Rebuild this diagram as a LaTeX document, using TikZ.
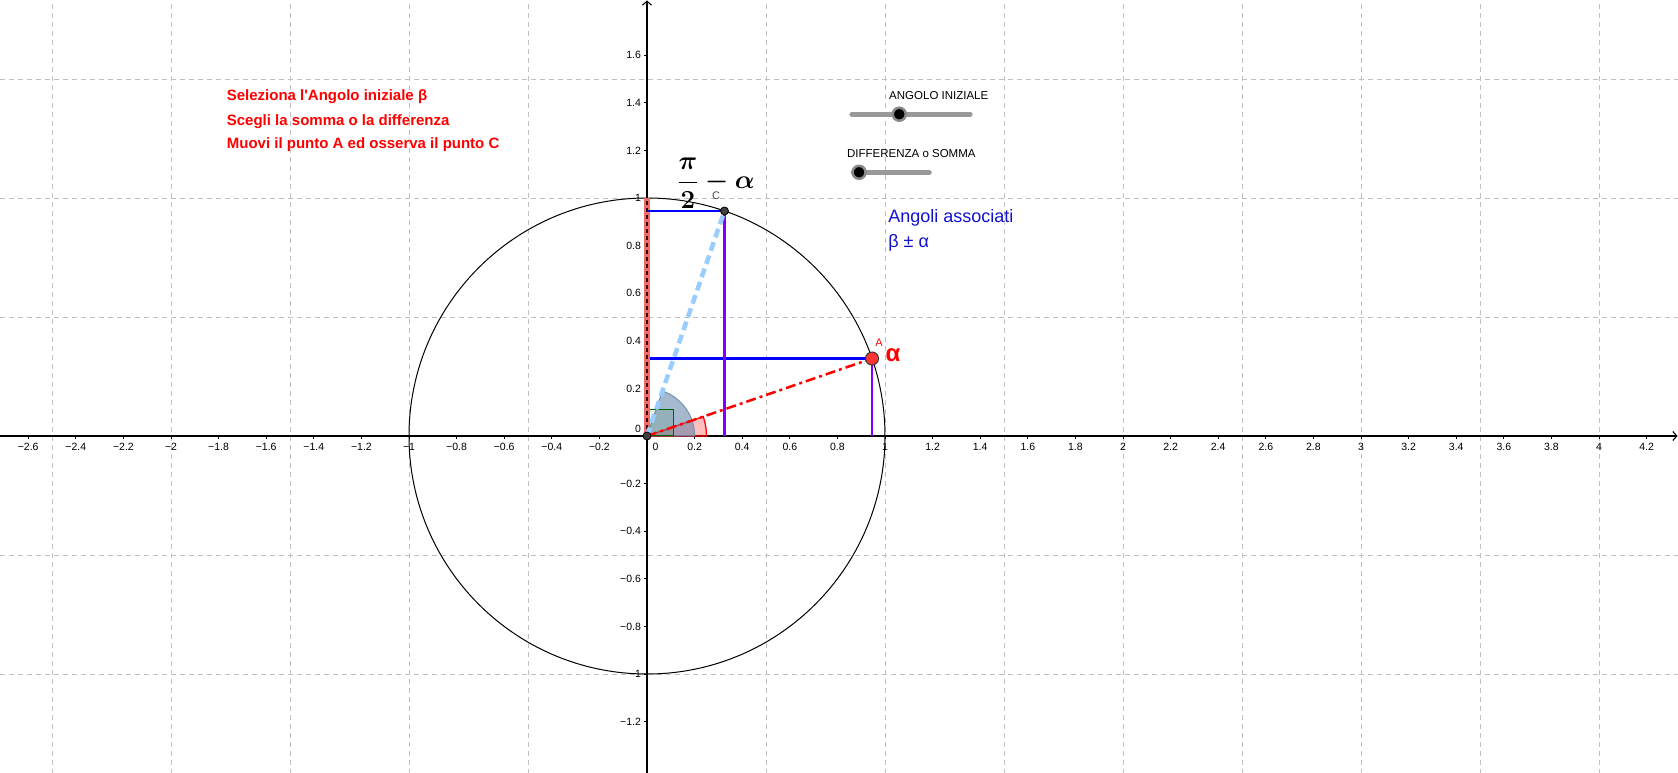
\RequirePackage{fix-cm}
\documentclass[tikz,border=0pt]{standalone}
\usepackage{amsmath}
\usepackage{fontspec}
\setmainfont{Liberation Sans}
\usetikzlibrary{arrows.meta,calc,positioning}

\definecolor{geored}{HTML}{FF0000}
\definecolor{geoblue}{HTML}{0000FF}
\definecolor{textblue}{HTML}{1010D0}
\definecolor{geoviolet}{HTML}{7F00FF}
\definecolor{skyblue}{HTML}{99CCFF}
\definecolor{slate}{HTML}{5B7FA5}
\definecolor{gridgray}{HTML}{C0C0C0}
\definecolor{salmon}{HTML}{F26B6B}
\definecolor{darkgreen}{HTML}{006400}
\definecolor{pointred}{HTML}{FF3333}
\definecolor{slidergray}{HTML}{999999}
\definecolor{knobgray}{HTML}{888888}

\newcommand{\angA}{19}  % angle alpha of A
\newcommand{\angC}{71}  % pi/2 - alpha

\tikzset{%
	gridline/.style = {draw=gridgray, line width=0.8pt, dash pattern=on 5pt off 4pt},
	axisline/.style = {line width=1.1pt, -{Straight Barb[length=4pt,width=9pt]}},
	xlab/.style     = {anchor=base, inner sep=0pt, font=\fontsize{10.5}{12}\selectfont},
	ylab/.style     = {anchor=east, inner sep=0pt, font=\fontsize{10.5}{12}\selectfont},
	projh/.style    = {draw=geoblue, line width=2.8pt},
	projv/.style    = {draw=geoviolet, line width=2.8pt},
	geopoint/.style = {circle, draw=black, fill=black!75, line width=0.8pt, inner sep=0pt, minimum size=8pt},
	slider/.style   = {draw=slidergray, line width=5pt, line cap=round},
	knob/.style     = {circle, fill=black, draw=knobgray, line width=2.5pt, inner sep=0pt, minimum size=13pt},
	redtext/.style  = {anchor=base west, inner sep=0pt, text=geored, font=\fontsize{15}{18}\selectfont\bfseries},
	bluetext/.style = {anchor=base west, inner sep=0pt, text=textblue, font=\fontsize{18}{21}\selectfont},
	slidertext/.style = {anchor=base west, inner sep=0pt, font=\fontsize{11.5}{13}\selectfont},
}

\begin{document}
\begin{tikzpicture}[x=238pt, y=238pt]
	\useasboundingbox (-647pt,-337pt) rectangle (1031pt,436pt);

	% grid
	\foreach \g in {-2.5,-2,-1.5,-1,-0.5,0.5,1,1.5,2,2.5,3,3.5,4}
		\draw[gridline] (\g,-1.42) -- (\g,1.84);
	\foreach \g in {-1,-0.5,0.5,1,1.5}
		\draw[gridline] (-2.72,\g) -- (4.34,\g);

	% axes
	\draw[axisline] (-2.72,0) -- (4.33,0);
	\draw[axisline] (0,-1.42) -- (0,1.83);
	\foreach \t in {0.2,0.4,0.6,0.8,1,1.2,1.4,1.6,1.8,2,2.2,2.4,2.6,2.8,3,3.2,3.4,3.6,3.8,4,4.2} {
		\draw[line width=0.8pt] (\t,0) -- ++(0,-3.5pt);
		\node[xlab] at (\t,-0.062) {\t};
	}
	\foreach \t in {0.2,0.4,0.6,0.8,1,1.2,1.4,1.6,1.8,2,2.2,2.4,2.6} {
		\draw[line width=0.8pt] (-\t,0) -- ++(0,-3.5pt);
		\node[xlab] at (-\t,-0.062) {−\t};
	}
	\foreach \t in {0.2,0.4,0.6,0.8,1,1.2,1.4,1.6} {
		\draw[line width=0.8pt] (0,\t) -- ++(-3.5pt,0);
		\node[ylab] at (-0.025,\t) {\t};
	}
	\foreach \t in {0.2,0.4,0.6,0.8,1,1.2} {
		\draw[line width=0.8pt] (0,-\t) -- ++(-3.5pt,0);
		\node[ylab] at (-0.025,-\t) {−\t};
	}
	\node[ylab] (zeroy) at (-0.025,0.03) {0};
	\node[xlab] (zerox) at (0.036,-0.062) {0};

	% unit circle and points
	\coordinate (O) at (0,0);
	\coordinate (A) at (\angA:1);
	\coordinate (C) at (\angC:1);
	\coordinate (T) at (0,1);
	\draw[line width=1pt] (O) circle[radius=1];

	% angles
	\filldraw[draw=geored, line width=1.3pt, fill=geored, fill opacity=0.25]
		(O) -- (0:0.25) arc[start angle=0, end angle=\angA, radius=0.25] -- cycle;
	\filldraw[draw=slate!85, line width=1pt, fill=slate, fill opacity=0.55]
		(O) -- (0:0.2) arc[start angle=0, end angle=\angC, radius=0.2] -- cycle;
	\filldraw[draw=darkgreen, line width=1pt, fill=darkgreen, fill opacity=0.1]
		(O) rectangle (0.113,0.113);

	% projections
	\draw[projh] (O |- A) -- (A);
	\draw[salmon, line width=6pt] (O) -- (T);
	\draw[black!80!red, line width=2pt, dash pattern=on 4pt off 3pt] (O) -- (T);
	\draw[projh] (O |- C) -- (C);
	\draw[projv] (A) -- (A |- O);
	\draw[projv] (C) -- (C |- O);

	% radii
	\draw[skyblue, line width=4.5pt, dash pattern=on 9pt off 5pt] (O) -- (C);
	\draw[geored, line width=2.5pt, dash pattern=on 10pt off 4pt on 3pt off 4pt] (O) -- (A);

	\node[geopoint] (pO) at (O) {};
	\node[geopoint] (pC) at (C) {};
	\node[circle, draw=black!80, line width=1pt, fill=pointred, inner sep=0pt, minimum size=13pt] (pA) at (A) {};

	% labels
	\node[text=geored, font=\fontsize{11}{13}\selectfont] (labA) at (0.975,0.391) {A};
	\node[text=geored, font=\fontsize{24}{28}\selectfont\bfseries] (alpha) at (1.034,0.340) {α};
	\node[text=black!70, font=\fontsize{11}{13}\selectfont] (labC) at (0.290,1.008) {C};
	\node[font=\fontsize{26}{30}\selectfont] (frac) at (0.290,1.063) {$\boldsymbol{\dfrac{\pi}{2}-\alpha}$};

	% instructions
	\node[redtext] (txt1) at (-1.766,1.409) {Seleziona l\textquotesingle Angolo iniziale β};
	\node[redtext] (txt2) at (-1.766,1.304) {Scegli la somma o la differenza};
	\node[redtext] (txt3) at (-1.766,1.206) {Muovi il punto A ed osserva il punto C};
	\node[bluetext] (assoc) at (1.013,0.898) {Angoli associati};
	\node[bluetext] (sumdiff) at (1.013,0.793) {β ± α};

	% sliders
	\coordinate (s1a) at (0.861,1.352);
	\coordinate (s1b) at (1.358,1.352);
	\coordinate (s2a) at (0.867,1.108);
	\coordinate (s2b) at (1.186,1.108);
	\draw[slider] (s1a) -- (s1b);
	\draw[slider] (s2a) -- (s2b);
	\node[knob] (knob1) at (1.060,1.352) {};
	\node[knob] (knob2) at (0.891,1.108) {};
	\node[slidertext] (slab1) at (1.017,1.412) {ANGOLO INIZIALE};
	\node[slidertext] (slab2) at (0.840,1.171) {DIFFERENZA o SOMMA};
\end{tikzpicture}
\end{document}
